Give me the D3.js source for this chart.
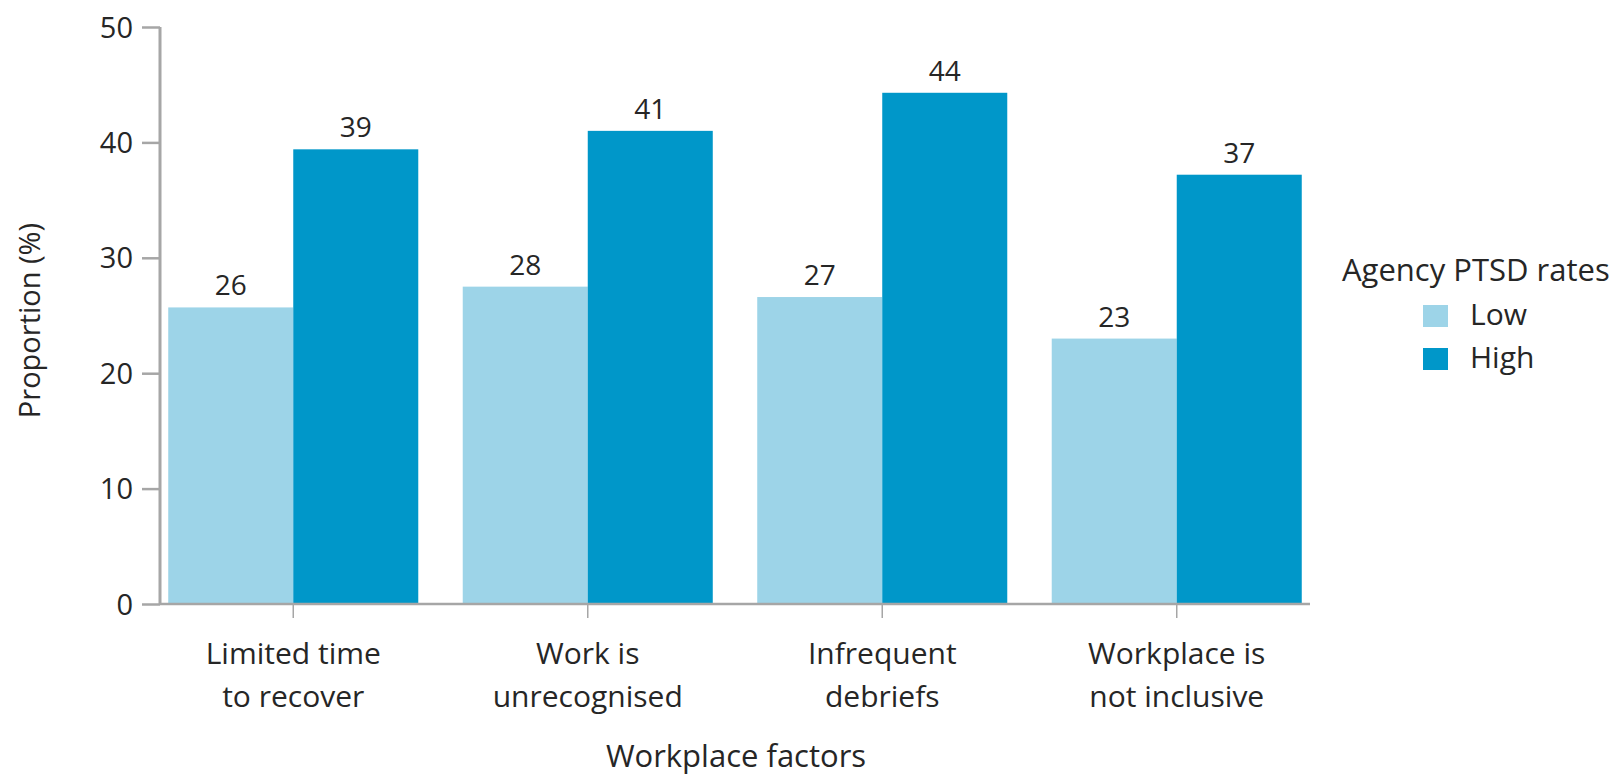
<!DOCTYPE html>
<html>
<head>
<meta charset="utf-8">
<script src="https://cdn.jsdelivr.net/npm/d3@7"></script>
<style>
  html, body { margin: 0; padding: 0; background: #ffffff; }
  svg { display: block; font-family: "Open Sans", Lato, sans-serif; }
</style>
</head>
<body>
<svg id="chart" width="1621" height="778"></svg>
<script>
// ---- data ----
const categories = ["Limited time\nto recover", "Work is\nunrecognised", "Infrequent\ndebriefs", "Workplace is\nnot inclusive"];
const seriesNames = ["Low", "High"];
const lowValues = [25.7, 27.5, 26.6, 23.0];
const highValues = [39.4, 41.0, 44.3, 37.2];
const yTicks = [0, 10, 20, 30, 40, 50];
const yTitle = "Proportion (%)";
const xTitle = "Workplace factors";
const legendTitle = "Agency PTSD rates";

// ---- styles ----
const colors = { Low: "#9dd4e8", High: "#0097c9" };
const textColor = "#262626";
const axisColor = "#a6a6a6";
const fontFamily = "'Open Sans', Lato, sans-serif";

const svg = d3.select("#chart");

const rows = categories.map((c, i) => ({ cat: c, Low: lowValues[i], High: highValues[i] }));

const x = d3.scaleBand().domain(categories).range([160, 1310]).paddingInner(0.151).paddingOuter(0.028);
const xs = d3.scaleBand().domain(seriesNames).range([0, x.bandwidth()]).padding(0);
const y = d3.scaleLinear().domain([0, 50]).range([604, 27]);

// bars
const groups = svg.append("g").selectAll("g").data(rows).join("g")
  .attr("transform", d => `translate(${x(d.cat)},0)`);

groups.selectAll("rect").data(d => seriesNames.map(s => ({ s, v: d[s] }))).join("rect")
  .attr("x", d => xs(d.s))
  .attr("y", d => y(d.v))
  .attr("width", xs.bandwidth())
  .attr("height", d => y(0) - y(d.v))
  .attr("fill", d => colors[d.s]);

groups.selectAll("text.val").data(d => seriesNames.map(s => ({ s, v: d[s] }))).join("text")
  .attr("class", "val")
  .attr("x", d => xs(d.s) + xs.bandwidth() / 2)
  .attr("y", d => y(d.v) - 12)
  .attr("text-anchor", "middle")
  .attr("fill", textColor)
  .attr("font-size", 28)
  .text(d => Math.round(d.v));

// y axis
const yAxis = svg.append("g").attr("transform", "translate(160,0)")
  .call(d3.axisLeft(y).tickValues(yTicks).tickSize(18).tickPadding(9));
yAxis.select(".domain").attr("stroke", axisColor).attr("stroke-width", 3).attr("d", `M0,${y(50)}V${y(0)}`);
yAxis.selectAll(".tick line").attr("stroke", axisColor).attr("stroke-width", 2.5);
yAxis.selectAll(".tick text").attr("fill", textColor).attr("font-size", 29).attr("font-family", fontFamily).attr("dy", "0.35em");

// x axis
const xAxis = svg.append("g").attr("transform", `translate(0,${y(0)})`)
  .call(d3.axisBottom(x).tickSize(14).tickFormat(""));
xAxis.select(".domain").attr("stroke", axisColor).attr("stroke-width", 2.5).attr("d", `M160,0H1310`);
xAxis.selectAll(".tick line").attr("stroke", axisColor).attr("stroke-width", 1.5);
xAxis.selectAll(".tick").each(function(d) {
  const lines = d.split("\n");
  const t = d3.select(this).append("text")
    .attr("text-anchor", "middle")
    .attr("fill", textColor)
    .attr("font-size", 30)
    .attr("font-family", fontFamily);
  lines.forEach((ln, i) => {
    t.append("tspan").attr("x", 0).attr("y", 60 + i * 43).text(ln);
  });
});

// axis titles
svg.append("text")
  .attr("transform", `translate(40,${(y(0) + y(50)) / 2 + 5}) rotate(-90)`)
  .attr("text-anchor", "middle")
  .attr("fill", textColor)
  .attr("font-size", 29)
  .text(yTitle);

svg.append("text")
  .attr("x", x.range()[0] + (x.range()[1] - x.range()[0]) / 2 + 1)
  .attr("y", 767)
  .attr("text-anchor", "middle")
  .attr("fill", textColor)
  .attr("font-size", 31)
  .text(xTitle);

// legend
const legend = svg.append("g");
legend.append("text")
  .attr("x", 1342).attr("y", 281)
  .attr("fill", textColor).attr("font-size", 31)
  .text(legendTitle);
const li = legend.selectAll("g.item").data(seriesNames).join("g")
  .attr("class", "item")
  .attr("transform", (d, i) => `translate(1423,${305 + i * 43})`);
li.append("rect").attr("width", 25).attr("height", 22).attr("fill", d => colors[d]);
li.append("text").attr("x", 47).attr("y", 20).attr("fill", textColor).attr("font-size", 30).text(d => d);
</script>
</body>
</html>
